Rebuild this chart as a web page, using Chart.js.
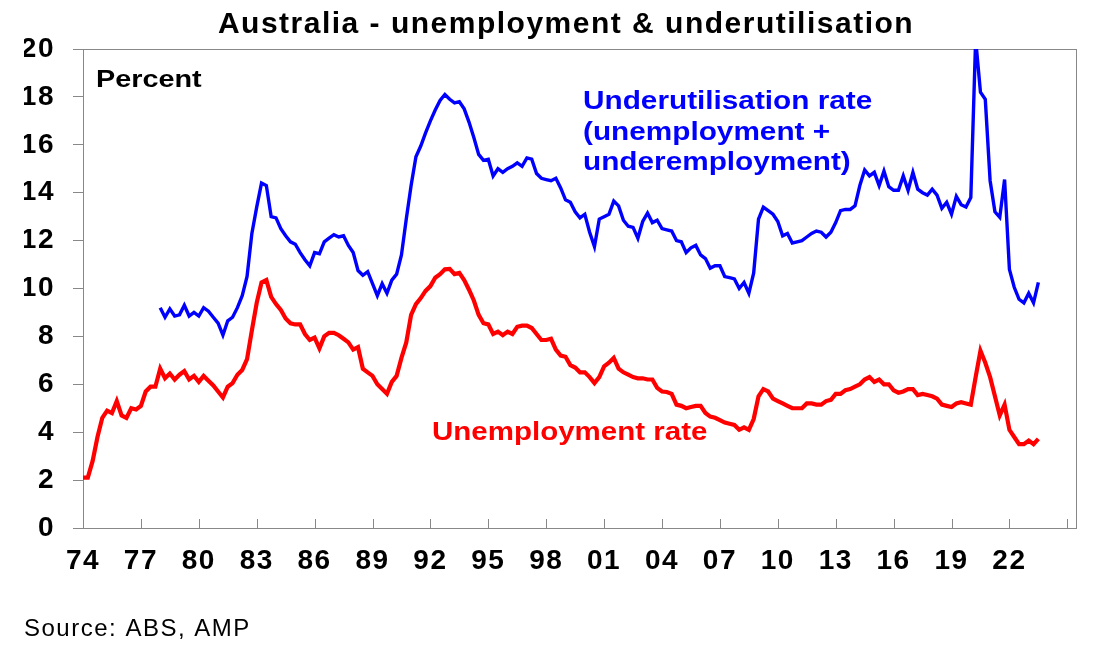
<!DOCTYPE html>
<html>
<head>
<meta charset="utf-8">
<title>Australia - unemployment & underutilisation</title>
<script src="https://cdn.jsdelivr.net/npm/chart.js@4.4.1/dist/chart.umd.min.js"></script>
<style>
  body { margin: 0; background: #fff; }
  #wrap { width: 1108px; height: 657px; }
</style>
</head>
<body>
<div id="wrap"><canvas id="myChart" width="1108" height="657"></canvas></div>
<script>
'use strict'

// quarterly readings, first value at the start year
let unempStart = 1974
let unempRate = [
    2.1, 2.1, 2.8, 3.8,   4.6, 4.9, 4.8, 5.3,   4.7, 4.6, 5.0, 4.95,  5.1, 5.7, 5.9, 5.9,
    6.65, 6.25, 6.45, 6.2, 6.4, 6.55, 6.2, 6.35, 6.1, 6.35, 6.15, 5.95, 5.7, 5.45, 5.9, 6.05,
    6.4, 6.6, 7.05, 8.25,  9.4, 10.25, 10.35, 9.65, 9.35, 9.1, 8.75, 8.55, 8.5, 8.5, 8.1, 7.85,
    7.95, 7.5, 8.0, 8.15,  8.15, 8.05, 7.9, 7.75, 7.45, 7.55, 6.65, 6.5,  6.35, 6.0, 5.8, 5.6,
    6.1, 6.35, 7.1, 7.75,  8.9, 9.35, 9.6, 9.9,  10.1, 10.45, 10.6, 10.8, 10.82, 10.6, 10.65, 10.35,
    9.95, 9.5, 8.9, 8.55,  8.5, 8.1, 8.2, 8.05,  8.2, 8.1, 8.4, 8.45,  8.45, 8.35, 8.1, 7.85,
    7.85, 7.9, 7.45, 7.2,  7.15, 6.8, 6.7, 6.5,  6.5, 6.3, 6.05, 6.3,  6.75, 6.9, 7.1, 6.65,
    6.5, 6.4, 6.3, 6.25,   6.25, 6.2, 6.2, 5.85, 5.7, 5.68, 5.6, 5.15, 5.1, 5.0, 5.05, 5.1,
    5.1, 4.8, 4.65, 4.6,   4.5, 4.4, 4.35, 4.3,  4.1, 4.2, 4.1, 4.55,  5.5, 5.8, 5.7, 5.4,
    5.3, 5.2, 5.1, 5.0,    5.0, 5.0, 5.2, 5.2,   5.15, 5.15, 5.3, 5.35, 5.6, 5.6, 5.75, 5.8,
    5.9, 6.0, 6.2, 6.3,    6.1, 6.2, 6.0, 6.0,   5.75, 5.65, 5.7, 5.8,  5.8, 5.55, 5.6, 5.55,
    5.5, 5.4, 5.15, 5.1,   5.05, 5.2, 5.25, 5.2, 5.15, 6.3, 7.4, 6.9,  6.3, 5.5, 4.7, 5.15,
    4.1, 3.8, 3.5, 3.5,    3.65, 3.5, 3.72
]

let underStart = 1978
let underRate = [
    9.2, 8.8, 9.15, 8.85,  8.9, 9.3, 8.85, 9.0,  8.85, 9.2, 9.05, 8.8,  8.55, 8.05, 8.65, 8.8,
    9.2, 9.7, 10.5, 12.3,  13.4, 14.4, 14.3, 13.0, 12.95, 12.5, 12.2, 11.95, 11.85, 11.5, 11.2, 10.95,
    11.5, 11.45, 11.95, 12.1, 12.25, 12.15, 12.2, 11.8, 11.5, 10.75, 10.55, 10.7, 10.2, 9.7, 10.2, 9.8,
    10.35, 10.6, 11.4, 12.9, 14.3, 15.5, 15.95, 16.5, 17.0, 17.45, 17.85, 18.1, 17.9, 17.75, 17.8, 17.5,
    16.95, 16.3, 15.6, 15.35, 15.4, 14.7, 15.0, 14.85, 15.0, 15.1, 15.25, 15.1, 15.45, 15.4, 14.8, 14.6,
    14.55, 14.5, 14.6, 14.2, 13.7, 13.6, 13.2, 12.95, 13.1, 12.35, 11.75, 12.9, 13.0, 13.1, 13.65, 13.45,
    12.85, 12.6, 12.55, 12.1, 12.8, 13.15, 12.75, 12.85, 12.5, 12.45, 12.4, 12.0, 11.95, 11.5, 11.7, 11.8,
    11.4, 11.25, 10.85, 10.95, 10.95, 10.5, 10.45, 10.4, 10.0, 10.25, 9.8, 10.65, 12.9, 13.4, 13.25, 13.1,
    12.8, 12.2, 12.3, 11.9, 11.95, 12.0, 12.15, 12.3, 12.4, 12.35, 12.15, 12.35, 12.75, 13.25, 13.3, 13.3,
    13.45, 14.3, 14.95, 14.7, 14.85, 14.3, 14.9, 14.25, 14.1, 14.1, 14.7, 14.1, 14.85, 14.15, 14.0, 13.9,
    14.15, 13.9, 13.35, 13.6, 13.1, 13.85, 13.5, 13.4, 13.8, 20.4, 18.2, 17.9, 14.5, 13.2, 12.97, 14.55,
    10.8, 10.05, 9.55, 9.4, 9.8, 9.4, 10.26
]

let xTickLabels = ['74', '77', '80', '83', '86', '89', '92', '95', '98', '01', '04', '07', '10', '13', '16', '19', '22', '']
let yearMin = 1974
let yearMax = 2025.45

let fontFamily = "'Liberation Sans', Arial, sans-serif"
let axisColor = '#888888'

function toPoints(start, values) {
    let pts = []
    for (let i = 0; i < values.length; i++) {
        pts.push({ x: start + i * 0.25, y: values[i] })
    }
    return pts
}

// the original's lettering is a little wider than Liberation Sans
const wideText = {
    id: 'wideText',
    beforeDraw(chart) {
        chart.ctx.letterSpacing = '1.5px'
    }
}

// ticks on the x axis point up into the plot
const innerTicks = {
    id: 'innerTicks',
    afterDraw(chart) {
        let ctx = chart.ctx
        let xs = chart.scales.x
        let bottom = chart.chartArea.bottom
        ctx.save()
        ctx.strokeStyle = axisColor
        ctx.lineWidth = 1
        ctx.beginPath()
        xs.ticks.forEach(t => {
            let px = Math.round(xs.getPixelForValue(t.value)) + 0.5
            ctx.moveTo(px, bottom - 9)
            ctx.lineTo(px, bottom)
        })
        ctx.stroke()
        ctx.restore()
    }
}

function wideLabel(ctx, text, x, y, sx) {
    ctx.save()
    ctx.translate(x, y)
    ctx.scale(sx, 1)
    ctx.fillText(text, 0, 0)
    ctx.restore()
}

const notes = {
    id: 'notes',
    afterDraw(chart) {
        let ctx = chart.ctx
        ctx.save()
        ctx.letterSpacing = '0px'
        ctx.textAlign = 'left'
        ctx.textBaseline = 'alphabetic'
        ctx.fillStyle = '#000000'
        ctx.font = 'bold 24px ' + fontFamily
        wideLabel(ctx, 'Percent', 96, 87, 1.2)
        ctx.fillStyle = '#0000ff'
        ctx.font = 'bold 25px ' + fontFamily
        wideLabel(ctx, 'Underutilisation rate', 583, 109, 1.19)
        wideLabel(ctx, '(unemployment +', 583, 139.5, 1.19)
        wideLabel(ctx, 'underemployment)', 583, 170, 1.19)
        ctx.fillStyle = '#ff0000'
        wideLabel(ctx, 'Unemployment rate', 432, 440, 1.18)
        ctx.restore()
    }
}

let ctx = document.getElementById('myChart')
const myChart = new Chart(ctx, {
    type: 'line',
    data: {
        datasets: [{
            label: 'Underutilisation rate (unemployment + underemployment)',
            data: toPoints(underStart, underRate),
            borderColor: '#0000ff',
            borderWidth: 3.4,
            pointRadius: 0,
            tension: 0
        }, {
            label: 'Unemployment rate',
            data: toPoints(unempStart, unempRate),
            borderColor: '#ff0000',
            borderWidth: 4.2,
            pointRadius: 0,
            tension: 0
        }]
    },
    options: {
        responsive: false,
        animation: false,
        devicePixelRatio: 1,
        layout: { padding: { left: 24, right: 0, top: 0, bottom: 0 } },
        plugins: {
            legend: { display: false },
            tooltip: { enabled: false },
            title: {
                display: true,
                text: 'Australia - unemployment & underutilisation',
                color: '#000000',
                font: { family: fontFamily, size: 30, weight: 'bold', lineHeight: 1.2 },
                padding: { top: 7, bottom: 6 }
            },
            subtitle: {
                display: true,
                position: 'bottom',
                align: 'start',
                text: 'Source: ABS, AMP',
                color: '#000000',
                font: { family: fontFamily, size: 24, weight: 'normal', lineHeight: 1.25 },
                padding: { top: 0, bottom: 13 }
            }
        },
        scales: {
            x: {
                type: 'linear',
                position: 'bottom',
                min: yearMin,
                max: yearMax,
                grid: { display: false, drawTicks: false },
                border: { display: true, color: axisColor, width: 1 },
                ticks: {
                    stepSize: 3,
                    includeBounds: false,
                    autoSkip: false,
                    maxRotation: 0,
                    padding: 16,
                    color: '#000000',
                    font: { family: fontFamily, size: 28, weight: 'bold' },
                    callback: function (value, index) {
                        return xTickLabels[index] !== undefined ? xTickLabels[index] : ''
                    }
                },
                afterFit: function (scale) { scale.height = 86 }
            },
            xTop: {
                type: 'linear',
                position: 'top',
                min: yearMin,
                max: yearMax,
                grid: { display: false, drawTicks: false },
                border: { display: true, color: axisColor, width: 1 },
                ticks: { display: false },
                afterFit: function (scale) { scale.height = 0 }
            },
            y: {
                min: 0,
                max: 20,
                grid: { display: true, drawOnChartArea: false, drawTicks: true, tickLength: 10, color: axisColor },
                border: { display: true, color: axisColor, width: 1 },
                ticks: {
                    stepSize: 2,
                    padding: 18,
                    color: '#000000',
                    font: { family: fontFamily, size: 28, weight: 'bold' }
                },
                afterFit: function (scale) { scale.width = 59 }
            },
            yRight: {
                position: 'right',
                min: 0,
                max: 20,
                grid: { display: false, drawTicks: false },
                border: { display: true, color: axisColor, width: 1 },
                ticks: { display: false },
                afterFit: function (scale) { scale.width = 32 }
            }
        }
    },
    plugins: [wideText, innerTicks, notes]
});
</script>
</body>
</html>
